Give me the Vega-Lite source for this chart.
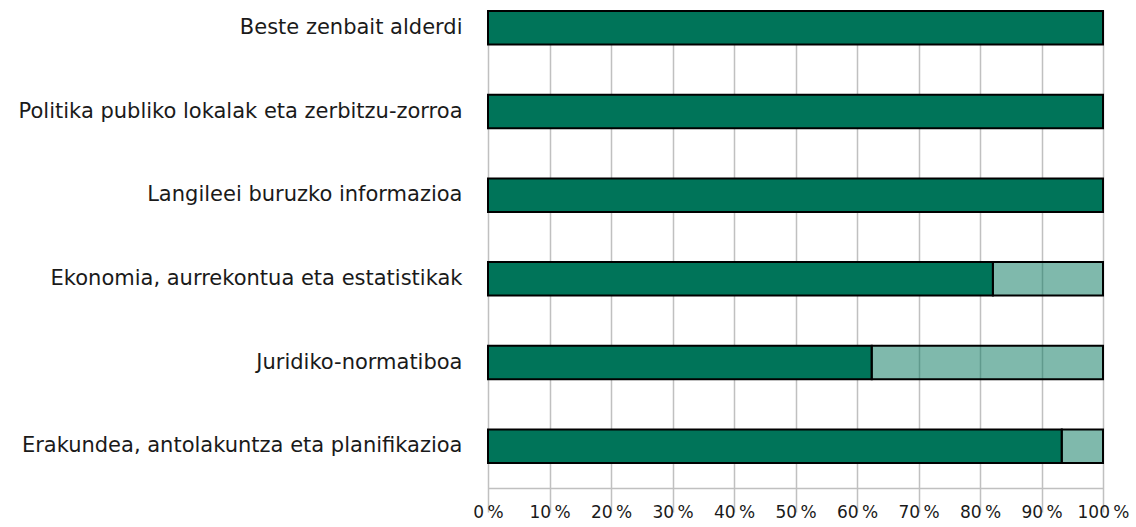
{
  "$schema": "https://vega.github.io/schema/vega-lite/v6.json",
  "autosize": {"type": "none"},
  "width": 615,
  "height": 478,
  "padding": {"left": 488, "top": 10, "right": 33, "bottom": 39},
  "background": "white",
  "config": {"view": {"stroke": null}, "font": "DejaVu Sans"},
  "data": {"values": [
    {"cat": "Beste zenbait alderdi", "s": "a", "v": 1.0},
    {"cat": "Beste zenbait alderdi", "s": "b", "v": 0.0},
    {"cat": "Politika publiko lokalak eta zerbitzu-zorroa", "s": "a", "v": 1.0},
    {"cat": "Politika publiko lokalak eta zerbitzu-zorroa", "s": "b", "v": 0.0},
    {"cat": "Langileei buruzko informazioa", "s": "a", "v": 1.0},
    {"cat": "Langileei buruzko informazioa", "s": "b", "v": 0.0},
    {"cat": "Ekonomia, aurrekontua eta estatistikak", "s": "a", "v": 0.821},
    {"cat": "Ekonomia, aurrekontua eta estatistikak", "s": "b", "v": 0.179},
    {"cat": "Juridiko-normatiboa", "s": "a", "v": 0.624},
    {"cat": "Juridiko-normatiboa", "s": "b", "v": 0.376},
    {"cat": "Erakundea, antolakuntza eta planifikazioa", "s": "a", "v": 0.933},
    {"cat": "Erakundea, antolakuntza eta planifikazioa", "s": "b", "v": 0.067}
  ]},
  "transform": [{"filter": "datum.v > 0"}],
  "mark": {"type": "bar", "color": "#007459", "stroke": "#000000", "strokeWidth": 2},
  "encoding": {
    "y": {
      "field": "cat", "type": "nominal", "sort": null, "title": null,
      "scale": {"range": [-24, 478], "paddingInner": 0.6, "paddingOuter": 0.3},
      "axis": {"domain": false, "ticks": false, "labelPadding": 26, "labelFontSize": 21, "labelColor": "#1a1a1a", "labelLimit": 600, "labelFont": "DejaVu Sans"}
    },
    "x": {
      "field": "v", "type": "quantitative", "stack": "zero", "title": null,
      "scale": {"domain": [0, 1], "nice": false},
      "axis": {"values": [0, 0.1, 0.2, 0.3, 0.4, 0.5, 0.6, 0.7, 0.8, 0.9, 1.0],
        "labelExpr": "format(datum.value*100, 'd') + '\u2009%'",
        "grid": true, "gridColor": "#c0c0c0", "gridWidth": 1.5,
        "domain": true, "domainColor": "#c0c0c0", "domainWidth": 1.5,
        "ticks": false, "labelPadding": 16, "labelFontSize": 17, "labelColor": "#1a1a1a", "labelFont": "DejaVu Sans", "labelFlush": false, "labelOverlap": false}
    },
    "fillOpacity": {"field": "s", "type": "nominal", "scale": {"domain": ["a", "b"], "range": [1, 0.5]}, "legend": null},
    "order": {"field": "s", "sort": "ascending"}
  }
}
